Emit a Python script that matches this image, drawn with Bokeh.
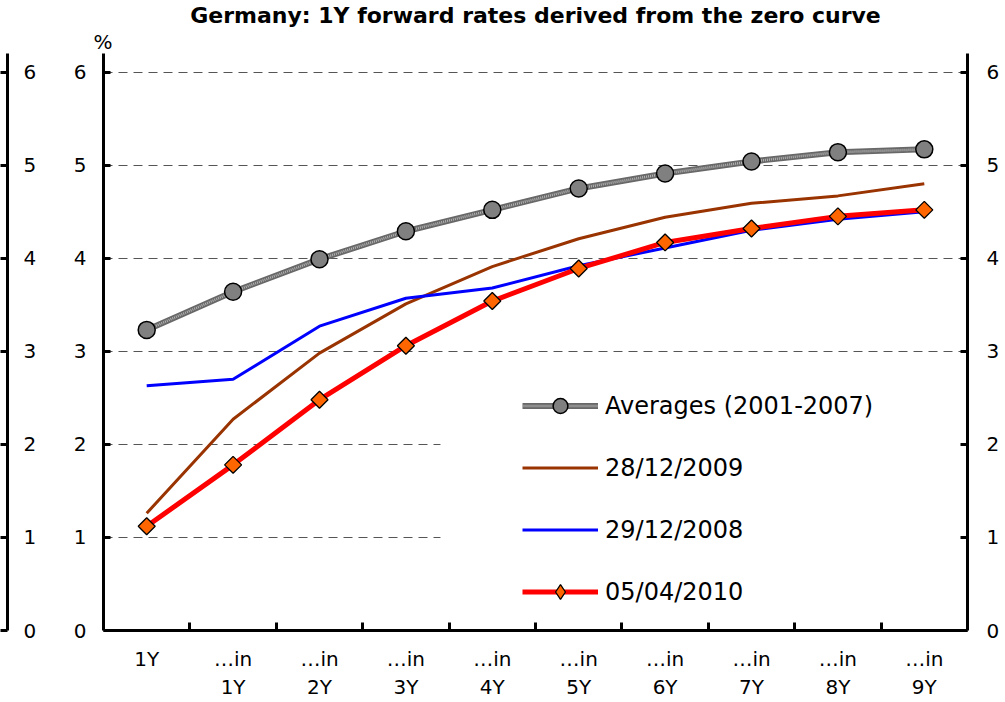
import numpy as np
from bokeh.plotting import figure
from bokeh.models import (Range1d, FixedTicker, LinearAxis, Legend, LegendItem,
                          Title, BoxAnnotation)
from bokeh.layouts import row
from bokeh.embed import file_html
from bokeh.resources import INLINE

# ---------------- data ----------------
categories = ["1Y", "\u2026in\n1Y", "\u2026in\n2Y", "\u2026in\n3Y", "\u2026in\n4Y",
              "\u2026in\n5Y", "\u2026in\n6Y", "\u2026in\n7Y", "\u2026in\n8Y", "\u2026in\n9Y"]
averages_2001_2007 = [3.23, 3.64, 3.99, 4.29, 4.52, 4.75, 4.91, 5.04, 5.14, 5.17]
rates_28_12_2009 = [1.26, 2.27, 2.98, 3.51, 3.91, 4.21, 4.44, 4.59, 4.67, 4.80]
rates_29_12_2008 = [2.63, 2.70, 3.27, 3.57, 3.68, 3.92, 4.11, 4.30, 4.42, 4.50]
rates_05_04_2010 = [1.12, 1.78, 2.48, 3.06, 3.54, 3.89, 4.17, 4.32, 4.45, 4.52]
y_ticks = [0, 1, 2, 3, 4, 5, 6]
series_labels = ["Averages (2001-2007)", "28/12/2009", "29/12/2008", "05/04/2010"]
title_text = "Germany: 1Y forward rates derived from the zero curve"
unit_text = "%"

# ---------------- layout constants ----------------
H = 702
FONT = "DejaVu Sans"
xs = np.arange(len(categories)) + 0.5
n = len(categories)


def style_y(ax, standoff):
    ax.ticker = FixedTicker(ticks=y_ticks)
    ax.axis_line_width = 3
    ax.axis_line_color = "black"
    ax.major_tick_line_width = 3
    ax.major_tick_line_color = "black"
    ax.major_tick_in = 7
    ax.major_tick_out = 0
    ax.minor_tick_line_color = None
    ax.major_label_text_font = FONT
    ax.major_label_text_font_size = "20px"
    ax.major_label_text_color = "black"
    ax.major_label_standoff = standoff


# main figure
p = figure(width=965, height=H, x_range=Range1d(0, n), y_range=Range1d(0, 6.2),
           output_backend="svg", toolbar_location=None,
           min_border_left=63, min_border_right=38, min_border_top=52,
           min_border_bottom=72, outline_line_color=None)

p.title.text = title_text
p.title.align = "center"
p.title.text_font = FONT
p.title.text_font_size = "22px"
p.title.text_font_style = "bold"
p.title.text_color = "black"
p.title.standoff = 0

unit_title = Title(text=unit_text, align="left", offset=-10, standoff=0,
                   text_font=FONT, text_font_size="20px", text_font_style="normal",
                   text_color="black")
p.add_layout(unit_title, "above")

style_y(p.yaxis[0], 17)
right_ax = LinearAxis()
p.add_layout(right_ax, "right")
style_y(right_ax, 19)

xa = p.xaxis[0]
xa.ticker = FixedTicker(ticks=list(xs), minor_ticks=list(range(1, n)))
xa.major_label_overrides = {float(x): c for x, c in zip(xs, categories)}
xa.axis_line_width = 3
xa.axis_line_color = "black"
xa.major_tick_line_color = None
xa.minor_tick_line_color = "black"
xa.minor_tick_line_width = 3
xa.minor_tick_in = 8
xa.minor_tick_out = 0
xa.major_label_text_font = FONT
xa.major_label_text_font_size = "20px"
xa.major_label_text_color = "black"
xa.major_label_standoff = 10

p.xgrid.visible = False
p.ygrid.ticker = FixedTicker(ticks=y_ticks[1:])
p.ygrid.grid_line_color = "#555555"
p.ygrid.grid_line_dash = "9 6"
p.ygrid.grid_line_width = 1

# white legend background region hiding grid lines (as in the original)
p.add_layout(BoxAnnotation(left=3.9, right=n, bottom=0, top=2.75,
                           fill_color="white", fill_alpha=1.0, line_color=None,
                           level="underlay"))

r_brown = p.line(xs, rates_28_12_2009, line_color="#993300", line_width=3)
r_blue = p.line(xs, rates_29_12_2008, line_color="#0000FF", line_width=3)
r_red = p.line(xs, rates_05_04_2010, line_color="#FF0000", line_width=5)
r_red_m = p.scatter(xs, rates_05_04_2010, marker="square", angle=np.pi / 4, size=12,
                    fill_color="#FF6600", line_color="black", line_width=1.3)
# legend-only swatch (rotated markers are drawn unrotated in legends)
r_red_leg = p.scatter(xs, rates_05_04_2010, marker="diamond", size=12,
                      fill_color="#FF6600", line_color="black", line_width=1.3,
                      visible=False)
r_avg_base = p.line(xs, averages_2001_2007, line_color="#686868", line_width=6)
r_avg_tex = p.line(xs, averages_2001_2007, line_color="#b4b4b4", line_width=2.5,
                   line_dash="1 1")
r_avg_m = p.scatter(xs, averages_2001_2007, marker="circle", size=17,
                    fill_color="#808080", line_color="black", line_width=1.5)

legend = Legend(items=[
    LegendItem(label=series_labels[0], renderers=[r_avg_base, r_avg_tex, r_avg_m]),
    LegendItem(label=series_labels[1], renderers=[r_brown]),
    LegendItem(label=series_labels[2], renderers=[r_blue]),
    LegendItem(label=series_labels[3], renderers=[r_red, r_red_leg]),
], location=(419, 20), orientation="vertical")
legend.glyph_width = 76
legend.glyph_height = 37
legend.label_height = 37
legend.spacing = 25
legend.padding = 0
legend.margin = 0
legend.label_standoff = 7
legend.label_text_font = FONT
legend.label_text_font_size = "24px"
legend.label_text_color = "black"
legend.border_line_color = None
legend.background_fill_alpha = 0
p.add_layout(legend, "center")

# cropped axis at the far left
pl = figure(width=40, height=H, x_range=Range1d(0, 1), y_range=p.y_range,
            x_axis_location=None, y_axis_location="right",
            output_backend="svg", toolbar_location=None,
            min_border_left=5, min_border_right=33, min_border_top=52,
            min_border_bottom=72, outline_line_color=None)
pl.grid.visible = False
style_y(pl.yaxis[0], 16)

layout = row(pl, p, spacing=0)
open("out.html", "w").write(file_html(layout, INLINE))
